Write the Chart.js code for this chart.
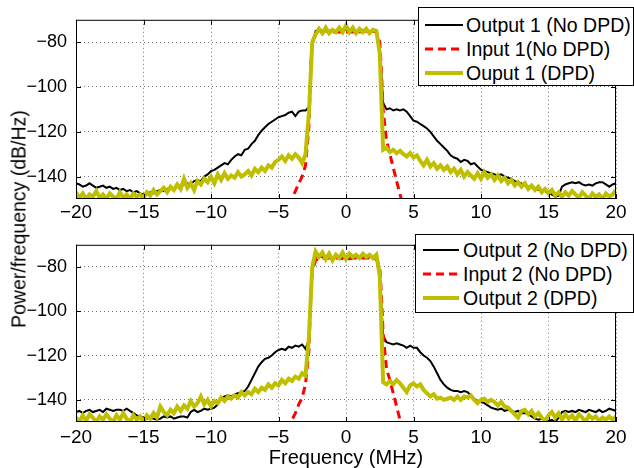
<!DOCTYPE html>
<html>
<head>
<meta charset="utf-8">
<script src="https://cdn.jsdelivr.net/npm/chart.js@4.4.0/dist/chart.umd.min.js"></script>
<style>
  body { margin: 0; background: #fff; font-family: "Liberation Sans", Arial, sans-serif; }
  #wrap { position: relative; width: 634px; height: 468px; overflow: hidden; }
  canvas { position: absolute; left: 0; }
  #c1 { top: 0; }
  #c2 { top: 225px; }
  .legend { position: absolute; box-sizing: border-box; background: #fff; border: 1px solid #000;
            font-size: 19.5px; color: #000; }
  .legend .row { display: flex; align-items: center; height: 24px; white-space: nowrap; }
  .legend svg { display: block; flex: none; }
  #ytitle { position: absolute; left: 19px; top: 219px; font-size: 19.5px; white-space: nowrap;
            transform: translate(-50%, -50%) rotate(-90deg); }
</style>
</head>
<body>
<div id="wrap">
  <canvas id="c1" width="634" height="225"></canvas>
  <canvas id="c2" width="634" height="243"></canvas>
  <div id="leg1" class="legend" style="left:418px; top:7px; width:216px; height:79px; padding:5px 0 0 6px;"></div>
  <div id="leg2" class="legend" style="left:415px; top:234px; width:219px; height:79px; padding:3px 0 0 7px;"></div>
  <div id="ytitle">Power/frequency (dB/Hz)</div>
</div>
<script>
const xTicks = [-20, -15, -10, -5, 0, 5, 10, 15, 20];
const yTicks = [-140, -120, -100, -80];

// frequency grid, 0.25 MHz steps from -20 to 20
const freq = Array.from({ length: 161 }, (_, i) => -20 + i * 0.25);
// the input (no DPD) traces only show up around the band
const rFreq = [-4.25, -4, -3.75, -3.5, -3.25, -3, -2.75, -2.6, -2.5, -2.25, -2, -1.5, -1, -0.5, 0,
               0.5, 1, 1.5, 2, 2.25, 2.5, 2.6, 2.75, 3, 3.25, 3.5, 3.75, 4, 4.25];

const out1NoDpd = [
  -143, -143.5, -144.5, -144, -143, -144, -145, -144.5, -144, -145, -144.5, -145.5, -145, -146, -145.5, -146.5, -146, -147, -146.5, -147.5,
  -148, -147.5, -147, -147.5, -146.5, -146, -146.5, -145.5, -145, -145.5, -144, -144.5, -143.5, -143, -143.5, -142, -141.5, -142, -140, -139,
  -137.5, -137, -136, -135, -134, -134.5, -132.5, -131, -130, -130.5, -128, -127.5, -125.5, -124, -121.5, -119.5, -118, -116.5, -115.5, -114.5,
  -113.5, -113, -112.5, -111.5, -111, -113, -111, -110.5, -110.5, -109, -82, -75, -74.5, -75, -74.5, -75, -74.5, -75.5, -74.5, -75,
  -74.5, -75, -74.5, -75.5, -75, -74.5, -75, -75.5, -74.5, -75, -82, -107, -110, -109.5, -110.5, -110, -110.5, -110, -111, -113,
  -115, -115.5, -116.5, -117.5, -118.5, -120, -122, -124, -125.5, -127, -128.5, -130.5, -131.5, -132, -133.5, -132.5, -133, -134.5, -134, -135.5,
  -137, -137.5, -138, -138.5, -139, -139.5, -139, -140, -140.5, -141, -142, -142.5, -143, -144, -144.5, -145, -145.5, -146, -146, -146.5,
  -147.5, -148, -149, -148.5, -144.5, -143.5, -143, -142.5, -143, -142.5, -143.5, -144, -143.5, -144, -143, -142.5, -142.5, -143.5, -144.5, -143.5,
  -143
];
const in1NoDpd = [-153, -150, -146.5, -143, -140, -135, -118, -90, -80, -76, -75, -75, -75.5, -75.5, -75.5,
                  -75.5, -75.5, -75, -75, -75.5, -80, -90, -110, -124, -130, -136, -142, -148, -153];
const out1Dpd = [
  -147, -149.5, -147.5, -150, -148, -149, -146.5, -149.5, -148, -150, -147.5, -149, -150, -147, -149.5, -148, -150, -147.5, -149, -148,
  -149.5, -147, -148.5, -146, -148, -146.5, -145, -147, -144.5, -146, -143.5, -145.5, -141, -145, -143, -146, -142, -143.5, -141, -142.5,
  -140, -143, -139, -141.5, -138.5, -141, -139.5, -140.5, -138, -140, -139, -137.5, -139.5, -136.5, -138, -136, -137.5, -135, -136, -133.5,
  -132.5, -131, -133, -130.5, -132, -130, -131.5, -134, -130, -112, -80, -76.5, -74, -76, -73.5, -76, -74.5, -75.5, -73.5, -75.5,
  -72.5, -75.5, -73.5, -76, -74, -75.5, -74, -76, -74.5, -75, -85, -128, -127, -129, -128, -129.5, -128.5, -130, -131, -129.5,
  -131.5, -130.5, -133, -135, -132.5, -135.5, -134, -136.5, -135, -137, -135.5, -138, -136.5, -139, -137, -140, -138, -139.5, -141, -138.5,
  -141, -138, -140.5, -139, -141.5, -139.5, -142, -140.5, -143, -141.5, -144, -142.5, -144.5, -143, -145.5, -144, -146, -144.5, -147, -145.5,
  -147.5, -146, -148.5, -147, -149, -147, -148.5, -146.5, -148, -149.5, -147, -148.5, -150, -147.5, -149, -148, -150, -147.5, -149, -148,
  -146
];

const out2NoDpd = [
  -145.5, -145, -146, -145, -144.5, -145.5, -145, -144.5, -145.5, -144, -144.5, -145, -144.5, -144.5, -145, -144, -145, -146, -147, -147.5,
  -148, -148.5, -148, -148.5, -149, -148.5, -147.5, -148, -147.5, -148.5, -148, -147.5, -147.5, -148, -145.5, -144.5, -145.5, -145, -144, -144.5,
  -144, -143.5, -142, -139.5, -138.5, -138, -138.5, -137.5, -137, -136.5, -136, -134, -131, -128, -125, -123, -121.5, -121, -120, -118.5,
  -117.5, -117, -117.5, -116, -116.5, -115.5, -116, -115, -117, -113, -82, -75.5, -75, -75.5, -76, -75.5, -76, -75.5, -76, -76,
  -76, -76.5, -76, -75.5, -76, -75.5, -76, -75.5, -75.5, -76, -84, -111, -114, -114.5, -115, -114.5, -115, -115.5, -116.5, -115.5,
  -116.5, -116.5, -118.5, -120, -121, -122.5, -125, -128, -131, -133, -134.5, -135.5, -136, -136, -136.5, -136, -136.5, -138, -139.5, -140.5,
  -141, -141.5, -142.5, -143.5, -144, -144.5, -144, -145, -144.5, -145, -145.5, -145, -146, -146, -146.5, -147.5, -148.5, -149, -148.5, -149.5,
  -149.5, -149, -150, -148, -145.5, -145, -145.5, -145, -145.5, -144.5, -145, -145.5, -144.5, -145, -145.5, -144.5, -145.5, -145, -144, -144.5,
  -145
];
const in2NoDpd = [-154, -149, -146, -142, -139, -133, -118, -92, -82, -77, -76, -76, -76, -76, -76.5,
                  -76, -76, -76, -76, -76.5, -80, -90, -110, -126, -131, -137, -143, -149, -154];
const out2Dpd = [
  -148, -150, -147, -149.5, -146.5, -148, -150, -147.5, -149, -146.5, -148.5, -150, -147, -149, -146, -148.5, -150, -147, -149, -147.5,
  -150, -147, -148.5, -146, -148, -143, -145.5, -147, -144.5, -146, -143, -145, -142.5, -144, -140.5, -143, -141.5, -138.5, -142, -140,
  -143, -140.5, -141.5, -139, -140.5, -138.5, -139.5, -138, -139, -136.5, -138, -136.5, -137.5, -135, -136.5, -134.5, -135.5, -133, -134.5, -132.5,
  -133.5, -131, -132.5, -130.5, -131.5, -129.5, -130.5, -128, -129, -112, -80, -73, -75.5, -73.5, -76.5, -74, -77, -74.5, -76, -73.5,
  -76.5, -74, -75.5, -74.5, -76, -74, -75.5, -74.5, -76, -74.5, -84, -132, -133, -131.5, -133, -131, -132.5, -134.5, -136.5, -133.5,
  -132.5, -134, -133, -135.5, -137, -138.5, -137.5, -139.5, -139, -140, -139.5, -139, -140, -138.5, -140, -138.5, -139, -138, -140, -141.5,
  -140, -139.5, -141, -140, -141, -142.5, -141, -143, -143.5, -145, -146.5, -148, -145, -144.5, -146.5, -145, -147.5, -146, -148, -149.5,
  -147, -145.5, -148, -146, -149, -146.5, -148.5, -147, -149.5, -146.5, -148, -150, -147, -148.5, -147.5, -149.5, -148, -149, -147.5, -149,
  -147.5
];

const FONT = '"Liberation Sans", Arial, sans-serif';
const BLACK = '#000000';
const RED = '#ff0000';
const OLIVE = '#bfbf00';

function pts(xs, ys) {
  return xs.map((x, i) => ({ x: x, y: ys[i] }));
}

function fmt(v) {
  return String(v).replace('-', '\u2212');
}

function makeSets(labels, outNo, inNo, outDpd) {
  return [
    { label: labels[0], data: pts(freq, outNo), borderColor: BLACK, borderWidth: 2, order: 3 },
    { label: labels[1], data: pts(rFreq, inNo), borderColor: RED, borderWidth: 3, borderDash: [8, 5], order: 2 },
    { label: labels[2], data: pts(freq, outDpd), borderColor: OLIVE, borderWidth: 4, order: 1 }
  ];
}

// MATLAB-like box with inward tick marks on all four sides
const boxPlugin = {
  id: 'box',
  afterDatasetsDraw(chart) {
    const { ctx, chartArea: a, scales } = chart;
    ctx.save();
    ctx.strokeStyle = '#000';
    ctx.lineWidth = 1;
    ctx.strokeRect(a.left + 0.5, a.top + 0.5, a.right - a.left - 1, a.bottom - a.top - 1);
    ctx.beginPath();
    xTicks.forEach(v => {
      const px = Math.round(scales.x.getPixelForValue(v)) + 0.5;
      ctx.moveTo(px, a.bottom); ctx.lineTo(px, a.bottom - 5);
      ctx.moveTo(px, a.top); ctx.lineTo(px, a.top + 5);
    });
    yTicks.forEach(v => {
      const py = Math.round(scales.y.getPixelForValue(v)) + 0.5;
      ctx.moveTo(a.left, py); ctx.lineTo(a.left + 5, py);
      ctx.moveTo(a.right, py); ctx.lineTo(a.right - 5, py);
    });
    ctx.stroke();
    ctx.restore();
  }
};

function makeChart(id, datasets, o) {
  return new Chart(document.getElementById(id), {
    type: 'line',
    data: { datasets: datasets },
    plugins: [boxPlugin],
    options: {
      responsive: false,
      animation: false,
      events: [],
      layout: { padding: { top: o.top, right: 18, left: 0, bottom: 0 } },
      elements: { point: { radius: 0 }, line: { tension: 0, fill: false } },
      datasets: { line: { clip: 0 } },
      plugins: { legend: { display: false }, tooltip: { enabled: false } },
      scales: {
        x: {
          type: 'linear', min: -20, max: 20,
          afterBuildTicks: s => { s.ticks = xTicks.map(v => ({ value: v })); },
          afterFit: s => { s.height = o.xHeight; },
          ticks: { color: '#000', font: { family: FONT, size: 19 }, padding: o.xPad, maxRotation: 0, callback: fmt },
          grid: { color: '#777', lineWidth: 1, drawTicks: false },
          border: { display: false, dash: [1, 3] },
          title: {
            display: o.title, text: 'Frequency (MHz)', color: '#000',
            font: { family: FONT, size: 20, lineHeight: 1 }, padding: { top: 0, bottom: 0 }
          }
        },
        y: {
          min: -150, max: -70,
          afterBuildTicks: s => { s.ticks = yTicks.map(v => ({ value: v })); },
          afterFit: s => { s.width = 76; },
          ticks: { color: '#000', font: { family: FONT, size: 18 }, padding: 9, callback: fmt },
          grid: { color: '#777', lineWidth: 1, drawTicks: false },
          border: { display: false, dash: [1, 3] }
        }
      }
    }
  });
}

function buildLegend(id, datasets, sampleW, gap) {
  const box = document.getElementById(id);
  datasets.forEach(ds => {
    const row = document.createElement('div');
    row.className = 'row';
    const dash = ds.borderDash ? ds.borderDash.join(' ') : 'none';
    row.innerHTML =
      '<svg width="' + sampleW + '" height="10"><line x1="0" y1="5" x2="' + sampleW + '" y2="5" stroke="' +
      ds.borderColor + '" stroke-width="' + ds.borderWidth + '" stroke-dasharray="' + dash + '"/></svg>' +
      '<span style="margin-left:' + gap + 'px">' + ds.label + '</span>';
    box.appendChild(row);
  });
}

const sets1 = makeSets(['Output 1 (No DPD)', 'Input 1(No DPD)', 'Ouput 1 (DPD)'], out1NoDpd, in1NoDpd, out1Dpd);
const sets2 = makeSets(['Output 2 (No DPD)', 'Input 2 (No DPD)', 'Output 2 (DPD)'], out2NoDpd, in2NoDpd, out2Dpd);

makeChart('c1', sets1, { top: 15, xHeight: 26, xPad: 2, title: false });
makeChart('c2', sets2, { top: 14, xHeight: 46, xPad: 4, title: true });

buildLegend('leg1', sets1, 38, 3);
buildLegend('leg2', sets2, 36, 4);
</script>
</body>
</html>
